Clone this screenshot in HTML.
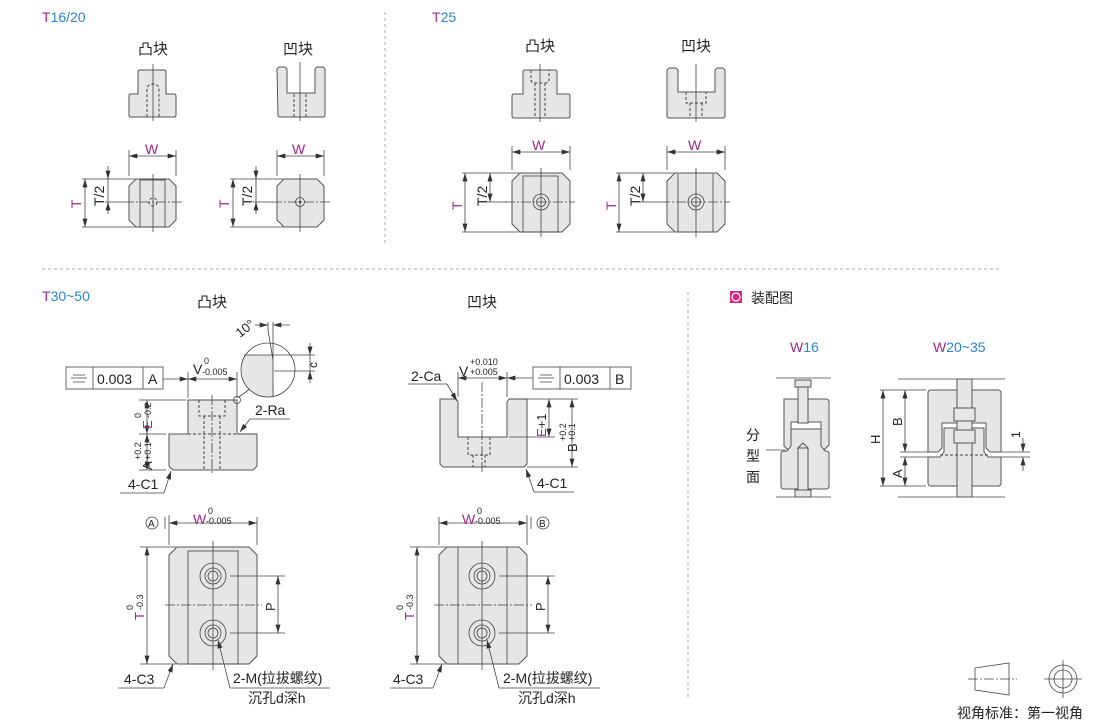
<!DOCTYPE html>
<html><head><meta charset="utf-8"><style>
html,body{margin:0;padding:0;background:#fff}
svg{display:block}
text{font-family:"Liberation Sans","Noto Sans CJK SC",sans-serif;fill:#222}
.m{fill:#9c2a8a}.b{fill:#2d86c8}
.blk{fill:#e6e6e8;stroke:#555;stroke-width:1}
.ln{stroke:#444;stroke-width:0.8;fill:none}
.cl{stroke:#444;stroke-width:0.8;fill:none;stroke-dasharray:10,2,2,2}
.hd{stroke:#444;stroke-width:1;fill:none;stroke-dasharray:3,2}
.sep{stroke:#aaa;stroke-width:1;stroke-dasharray:3,3;fill:none}
.dm{stroke:#444;stroke-width:0.8;fill:none;marker-start:url(#a);marker-end:url(#a)}
.ar{stroke:#444;stroke-width:0.8;fill:none;marker-end:url(#a)}
</style></head><body>
<svg width="1110" height="724" viewBox="0 0 1110 724" xmlns="http://www.w3.org/2000/svg">
<defs><marker id="a" viewBox="0 0 10 6" refX="10" refY="3" markerWidth="9" markerHeight="5" orient="auto-start-reverse" markerUnits="userSpaceOnUse"><path d="M0,0L10,3L0,6z" fill="#333"/></marker></defs>

<line class="sep" x1="385" y1="12" x2="385" y2="245"/>
<line class="sep" x1="42" y1="269" x2="1000" y2="269"/>
<line class="sep" x1="688" y1="292" x2="688" y2="700"/>

<text x="42" y="22" font-size="14"><tspan class="m">T</tspan><tspan class="b">16/20</tspan></text>
<text x="432" y="22" font-size="14"><tspan class="m">T</tspan><tspan class="b">25</tspan></text>
<text x="42" y="301" font-size="14"><tspan class="m">T</tspan><tspan class="b">30~50</tspan></text>
<g font-size="15">
<text x="138" y="54">凸块</text><text x="283" y="54">凹块</text>
<text x="525" y="51">凸块</text><text x="681" y="51">凹块</text>
<text x="197" y="307">凸块</text><text x="467" y="307">凹块</text>
</g>

<path class="blk" d="M138,72q0,-2 2,-2h24q2,0 2,2V94h8q2,0 2,2v19q0,2 -2,2h-43q-2,0 -2,-2v-19q0,-2 2,-2h7Z"/>
<path class="hd" d="M147,117V90q0,-6 6,-6q6,0 6,6V117"/>
<line class="ln" x1="153" y1="64" x2="153" y2="121"/>
<path class="blk" d="M277,69l2,-2h6l2,2V93h28V69l2,-2h6l2,2V115q0,2 -2,2h-43q-2,0 -2,-2Z"/>
<path class="hd" d="M294,94V117M306,94V117"/>
<line class="ln" x1="300" y1="62" x2="300" y2="121"/>

<path class="blk" d="M136,179h33l7,7v34l-7,7h-33l-7,-7v-34z"/>
<rect class="ln" x="140" y="180" width="25" height="47"/>
<circle class="hd" cx="153" cy="202" r="4"/>
<line class="cl" x1="124" y1="202" x2="182" y2="202"/><line class="ln" x1="153" y1="174" x2="153" y2="232"/>
<path class="ln" d="M129,176V150M176,176V150M82,179H135M82,227H135M105,202H125"/>
<line class="dm" x1="129" y1="156" x2="176" y2="156"/>
<text x="145" y="154" font-size="14" class="m">W</text>
<line class="dm" x1="85" y1="179" x2="85" y2="227"/>
<path class="ar" d="M108,166V179"/><path class="ar" d="M108,214V202"/><line class="ln" x1="108" y1="179" x2="108" y2="202"/>
<text transform="translate(81,208) rotate(-90)" font-size="14" class="m">T</text>
<text transform="translate(104,206) rotate(-90)" font-size="14">T/2</text>

<path class="blk" d="M284,179h33l7,7v34l-7,7h-33l-7,-7v-34z"/>
<circle class="ln" cx="300" cy="202" r="4.5"/><circle fill="#333" cx="300" cy="202" r="1.2"/>
<line class="cl" x1="272" y1="202" x2="330" y2="202"/><line class="ln" x1="300" y1="174" x2="300" y2="232"/>
<path class="ln" d="M277,176V150M324,176V150M230,179H283M230,227H283M253,202H273"/>
<line class="dm" x1="277" y1="156" x2="324" y2="156"/>
<text x="292" y="154" font-size="14" class="m">W</text>
<line class="dm" x1="233" y1="179" x2="233" y2="227"/>
<path class="ar" d="M256,166V179"/><path class="ar" d="M256,214V202"/><line class="ln" x1="256" y1="179" x2="256" y2="202"/>
<text transform="translate(229,208) rotate(-90)" font-size="14" class="m">T</text>
<text transform="translate(252,206) rotate(-90)" font-size="14">T/2</text>

<path class="blk" d="M523,72q0,-2 2,-2h30q2,0 2,2V94h11q2,0 2,2v20q0,2 -2,2h-54q-2,0 -2,-2v-20q0,-2 2,-2h9Z"/>
<path class="hd" d="M531,70V80q0,3 4,3h10q4,0 4,-3V70M535,83V118M545,83V118"/>
<line class="ln" x1="540" y1="64" x2="540" y2="122"/>
<path class="blk" d="M667,70l2,-2h7l2,2V92h37V70l2,-2h6l2,2V116q0,2 -2,2h-54q-2,0 -2,-2Z"/>
<path class="hd" d="M686,92V103h20V92M690,103V118M702,103V118"/>
<line class="ln" x1="696" y1="64" x2="696" y2="122"/>

<path class="blk" d="M520,173h42l8,8v43l-8,8h-42l-8,-8v-43z"/>
<rect class="ln" x="523" y="176" width="35" height="56"/>
<circle class="ln" cx="541" cy="202" r="8"/><circle class="ln" cx="541" cy="202" r="4.5"/>
<line class="cl" x1="505" y1="202" x2="575" y2="202"/><line class="ln" x1="541" y1="168" x2="541" y2="237"/>
<path class="ln" d="M512,170V146M570,170V146M462,173H519M462,232H519M487,202H507"/>
<line class="dm" x1="512" y1="152" x2="570" y2="152"/>
<text x="532" y="150" font-size="14" class="m">W</text>
<line class="dm" x1="465" y1="173" x2="465" y2="232"/>
<line class="dm" x1="490" y1="173" x2="490" y2="202"/>
<text transform="translate(462,210) rotate(-90)" font-size="14" class="m">T</text>
<text transform="translate(487,206) rotate(-90)" font-size="14">T/2</text>

<path class="blk" d="M675,173h42l8,8v43l-8,8h-42l-8,-8v-43z"/>
<path class="ln" d="M678,174V232M713,174V232"/>
<circle class="ln" cx="696" cy="202" r="8"/><circle class="ln" cx="696" cy="202" r="4.5"/>
<line class="cl" x1="660" y1="202" x2="730" y2="202"/><line class="ln" x1="696" y1="168" x2="696" y2="237"/>
<path class="ln" d="M667,170V146M725,170V146M616,173H674M616,232H674M640,202H660"/>
<line class="dm" x1="667" y1="152" x2="725" y2="152"/>
<text x="688" y="150" font-size="14" class="m">W</text>
<line class="dm" x1="619" y1="173" x2="619" y2="232"/>
<line class="dm" x1="643" y1="173" x2="643" y2="202"/>
<text transform="translate(616,210) rotate(-90)" font-size="14" class="m">T</text>
<text transform="translate(640,206) rotate(-90)" font-size="14">T/2</text>

<!-- T30~50 凸块 side -->
<path class="blk" d="M188,400H237V434h20V466l-4,4H173l-4,-4V434h19Z"/>
<path class="hd" d="M199,400V416h26V400M204,416V470M220,416V470M188,434H257"/>
<line class="cl" x1="212" y1="395" x2="212" y2="475"/>
<rect class="ln" x="66" y="367" width="97" height="22" fill="#fff"/>
<path class="ln" d="M93,367V389M143,367V389M73,375h12M71,378h16M73,382h12"/>
<text x="97" y="384" font-size="14">0.003</text><text x="148" y="384" font-size="14">A</text>
<path class="ar" d="M163,379H188"/>
<path class="ln" d="M188,398V372M237,398V372"/>
<line class="dm" x1="188" y1="379" x2="237" y2="379"/>
<text x="193" y="374" font-size="14">V</text><text x="204" y="364" font-size="9">0</text><text x="202" y="375" font-size="9">-0.005</text>
<circle class="ln" cx="237" cy="400" r="3.5"/>
<line class="ln" x1="239" y1="397" x2="251" y2="388"/>
<path d="M268,355 L273,355 L274,397 A27,27 0 0 1 241,370 A27,27 0 0 1 244,355Z" fill="#e6e6e8"/>
<circle class="ln" cx="268" cy="370" r="27"/>
<path class="ln" d="M244,355H315M274,371H315M273,330V397M268,330L273,360M273,322V330M268,322L268,330"/>
<path class="ar" d="M255,325L268,325"/><path class="ar" d="M290,325L273,325"/>
<text transform="translate(240,338) rotate(-38)" font-size="13">10°</text>
<path class="ar" d="M310,343V355"/><path class="ar" d="M310,383V371"/><line class="ln" x1="310" y1="355" x2="310" y2="371"/>
<text transform="translate(317,368) rotate(-90)" font-size="12">c</text>
<path class="ln" d="M139,400H186M139,434H166M139,470H166"/>
<line class="dm" x1="147" y1="400" x2="147" y2="434"/><line class="dm" x1="147" y1="434" x2="147" y2="470"/>
<text transform="translate(152,429) rotate(-90)" font-size="13" class="m">E</text>
<text transform="translate(141,418) rotate(-90)" font-size="9">0</text>
<text transform="translate(151,418) rotate(-90)" font-size="9">-0.2</text>
<text transform="translate(152,470) rotate(-90)" font-size="13">A</text>
<text transform="translate(141,460) rotate(-90)" font-size="9">+0.2</text>
<text transform="translate(151,460) rotate(-90)" font-size="9">+0.1</text>
<text x="255" y="415" font-size="14">2-Ra</text>
<path class="ln" d="M250,419H290"/><path class="ar" d="M250,419L240,432"/>
<text x="128" y="489" font-size="14">4-C1</text>
<path class="ln" d="M120,493H164"/><path class="ar" d="M164,493L171,471"/>

<!-- T30~50 凹块 side -->
<path class="blk" d="M440,399H456L458,402V437H507V402L509,399H527V464l-3,3H443l-3,-3Z"/>
<path class="hd" d="M468,437V455h22V437M473,455V467M485,455V467"/>
<line class="cl" x1="482" y1="382" x2="482" y2="472"/>
<rect class="ln" x="533" y="367" width="98" height="22" fill="#fff"/>
<path class="ln" d="M560,367V389M610,367V389M540,375h12M538,378h16M540,382h12"/>
<text x="564" y="384" font-size="14">0.003</text><text x="615" y="384" font-size="14">B</text>
<path class="ar" d="M533,378H507"/>
<path class="ln" d="M458,397V372M507,397V372"/>
<line class="dm" x1="458" y1="378" x2="507" y2="378"/>
<text x="459" y="376" font-size="14">V</text><text x="470" y="365" font-size="9">+0.010</text><text x="470" y="375" font-size="9">+0.005</text>
<text x="411" y="381" font-size="14">2-Ca</text>
<path class="ln" d="M408,384H447"/><path class="ar" d="M447,384L457,401"/>
<path class="ln" d="M509,399H578M509,437H555M527,467H578"/>
<line class="dm" x1="549" y1="399" x2="549" y2="437"/><line class="dm" x1="572" y1="399" x2="572" y2="467"/>
<text transform="translate(546,437) rotate(-90)" font-size="13"><tspan class="m">E</tspan>+1</text>
<text transform="translate(577,452) rotate(-90)" font-size="13">B</text>
<text transform="translate(566,441) rotate(-90)" font-size="9">+0.2</text>
<text transform="translate(575,441) rotate(-90)" font-size="9">+0.1</text>
<text x="537" y="488" font-size="14">4-C1</text>
<path class="ln" d="M534,492H574"/><path class="ar" d="M534,492L526,469"/>

<!-- T30~50 凸块 plan -->
<path class="blk" d="M177,547h72l8,8v101l-8,8h-72l-8,-8v-101z"/>
<rect class="ln" x="188" y="551" width="50" height="113"/>
<circle class="ln" cx="213" cy="576" r="13"/><circle class="ln" cx="213" cy="576" r="8"/><circle class="ln" cx="213" cy="576" r="5"/>
<circle class="ln" cx="213" cy="633" r="13"/><circle class="ln" cx="213" cy="633" r="8"/><circle class="ln" cx="213" cy="633" r="5"/>
<line class="cl" x1="165" y1="605" x2="262" y2="605"/><line class="ln" x1="213" y1="541" x2="213" y2="670"/>
<path class="ln" d="M169,545V515M257,545V517M140,547H176M140,664H176M230,576H285M230,633H285"/>
<line class="dm" x1="169" y1="523" x2="257" y2="523"/><line class="ln" x1="165" y1="517" x2="165" y2="529"/>
<circle class="ln" cx="152" cy="523" r="6"/><text x="148" y="527" font-size="10">A</text>
<text x="193" y="524" font-size="14" class="m">W</text><text x="208" y="514" font-size="9">0</text><text x="206" y="524" font-size="9">-0.005</text>
<line class="dm" x1="147" y1="547" x2="147" y2="664"/>
<text transform="translate(144,620) rotate(-90)" font-size="13" class="m">T</text>
<text transform="translate(133,610) rotate(-90)" font-size="9">0</text><text transform="translate(143,610) rotate(-90)" font-size="9">-0.3</text>
<line class="dm" x1="278" y1="576" x2="278" y2="633"/>
<text transform="translate(275,611) rotate(-90)" font-size="13">P</text>
<text x="124" y="684" font-size="14">4-C3</text>
<path class="ln" d="M118,688H164"/><path class="ar" d="M164,688L173,664"/>
<text x="233" y="683" font-size="14">2-M(拉拔螺纹)</text>
<path class="ln" d="M230,688H330"/><path class="ar" d="M230,688L218,640"/>
<text x="248" y="703" font-size="14">沉孔d深h</text>

<!-- T30~50 凹块 plan -->
<path class="blk" d="M447,547h72l8,8v101l-8,8h-72l-8,-8v-101z"/>
<path class="ln" d="M458,547V664M507,547V664"/>
<circle class="ln" cx="482" cy="576" r="13"/><circle class="ln" cx="482" cy="576" r="8"/><circle class="ln" cx="482" cy="576" r="5"/>
<circle class="ln" cx="482" cy="633" r="13"/><circle class="ln" cx="482" cy="633" r="8"/><circle class="ln" cx="482" cy="633" r="5"/>
<line class="cl" x1="434" y1="605" x2="532" y2="605"/><line class="ln" x1="482" y1="541" x2="482" y2="670"/>
<path class="ln" d="M439,545V517M527,545V515M410,547H446M410,664H446M499,576H555M499,633H555"/>
<line class="dm" x1="439" y1="523" x2="527" y2="523"/><line class="ln" x1="531" y1="517" x2="531" y2="529"/>
<circle class="ln" cx="543" cy="523" r="6"/><text x="539" y="527" font-size="10">B</text>
<text x="462" y="524" font-size="14" class="m">W</text><text x="477" y="514" font-size="9">0</text><text x="475" y="524" font-size="9">-0.005</text>
<line class="dm" x1="417" y1="547" x2="417" y2="664"/>
<text transform="translate(414,620) rotate(-90)" font-size="13" class="m">T</text>
<text transform="translate(403,610) rotate(-90)" font-size="9">0</text><text transform="translate(413,610) rotate(-90)" font-size="9">-0.3</text>
<line class="dm" x1="548" y1="576" x2="548" y2="633"/>
<text transform="translate(545,611) rotate(-90)" font-size="13">P</text>
<text x="393" y="684" font-size="14">4-C3</text>
<path class="ln" d="M390,688H433"/><path class="ar" d="M433,688L442,664"/>
<text x="503" y="683" font-size="14">2-M(拉拔螺纹)</text>
<path class="ln" d="M499,688H600"/><path class="ar" d="M499,688L487,640"/>
<text x="518" y="703" font-size="14">沉孔d深h</text>

<!-- Assembly -->
<rect x="730" y="291" width="12" height="12" fill="#d6287f"/><circle cx="736" cy="297" r="4" fill="none" stroke="#fff" stroke-width="1.2"/>
<text x="751" y="303" font-size="14">装配图</text>
<text x="790" y="352" font-size="14"><tspan class="m">W</tspan><tspan class="b">16</tspan></text>
<text x="933" y="352" font-size="14"><tspan class="m">W</tspan><tspan class="b">20~35</tspan></text>

<line class="ln" x1="776" y1="378" x2="831" y2="378"/><line class="ln" x1="776" y1="497" x2="831" y2="497"/>
<path class="blk" d="M784,399H826q3,0 3,3V445l-4,4h-4V422H791V449h-4l-3,-3Z"/>
<path class="blk" d="M791,429H821V446l4,5h1q3,0 3,3V486q0,3 -3,3H784q-3,0 -3,-3V454q0,-3 3,-3h3l4,-5Z"/>
<rect class="blk" x="798" y="386" width="10" height="37"/><rect class="blk" x="795" y="380" width="16" height="7"/>
<rect class="blk" x="798" y="448" width="10" height="45"/><path class="blk" d="M798,448l5,-5l5,5z"/><rect class="blk" x="795" y="490" width="16" height="7"/>
<line class="ln" x1="766" y1="450" x2="785" y2="450"/>
<text x="746" y="440" font-size="14">分</text><text x="746" y="461" font-size="14">型</text><text x="746" y="482" font-size="14">面</text>

<line class="ln" x1="898" y1="379" x2="1005" y2="379"/><line class="ln" x1="898" y1="497" x2="1005" y2="497"/>
<path class="blk" d="M931,390H998q3,0 3,3V452H990l-4,-4V423H942V448l-4,4H928V393q0,-3 3,-3Z"/>
<path class="blk" d="M944,428H984V452l4,5H1001V483q0,3 -3,3H931q-3,0 -3,-3V457H940l4,-5Z"/>
<rect class="blk" x="957" y="379" width="15" height="118"/>
<rect class="blk" x="954" y="408" width="21" height="13"/><rect class="blk" x="954" y="430" width="21" height="13"/>
<path class="ln" d="M900,452H928M1001,452H1030M900,457H928M1001,457H1030M880,390H926M880,486H926"/>
<line class="hd" x1="940" y1="455" x2="988" y2="455"/>
<line class="dm" x1="883" y1="390" x2="883" y2="486"/>
<line class="dm" x1="905" y1="390" x2="905" y2="452"/><line class="dm" x1="905" y1="457" x2="905" y2="486"/>
<text transform="translate(880,444) rotate(-90)" font-size="13">H</text>
<text transform="translate(902,426) rotate(-90)" font-size="13">B</text>
<text transform="translate(902,478) rotate(-90)" font-size="13">A</text>
<path class="ar" d="M1023,438V452"/><path class="ar" d="M1023,471V457"/>
<text transform="translate(1020,438) rotate(-90)" font-size="12">1</text>

<path class="ln" d="M975,668L1009,663V695L975,690Z"/>
<line class="cl" x1="968" y1="679" x2="1017" y2="679"/>
<circle class="ln" cx="1063" cy="679" r="14"/><circle class="ln" cx="1063" cy="679" r="9"/>
<path class="ln" d="M1063,660V698M1044,679H1082"/>
<text x="957" y="718" font-size="14">视角标准：第一视角</text>
</svg>
</body></html>
